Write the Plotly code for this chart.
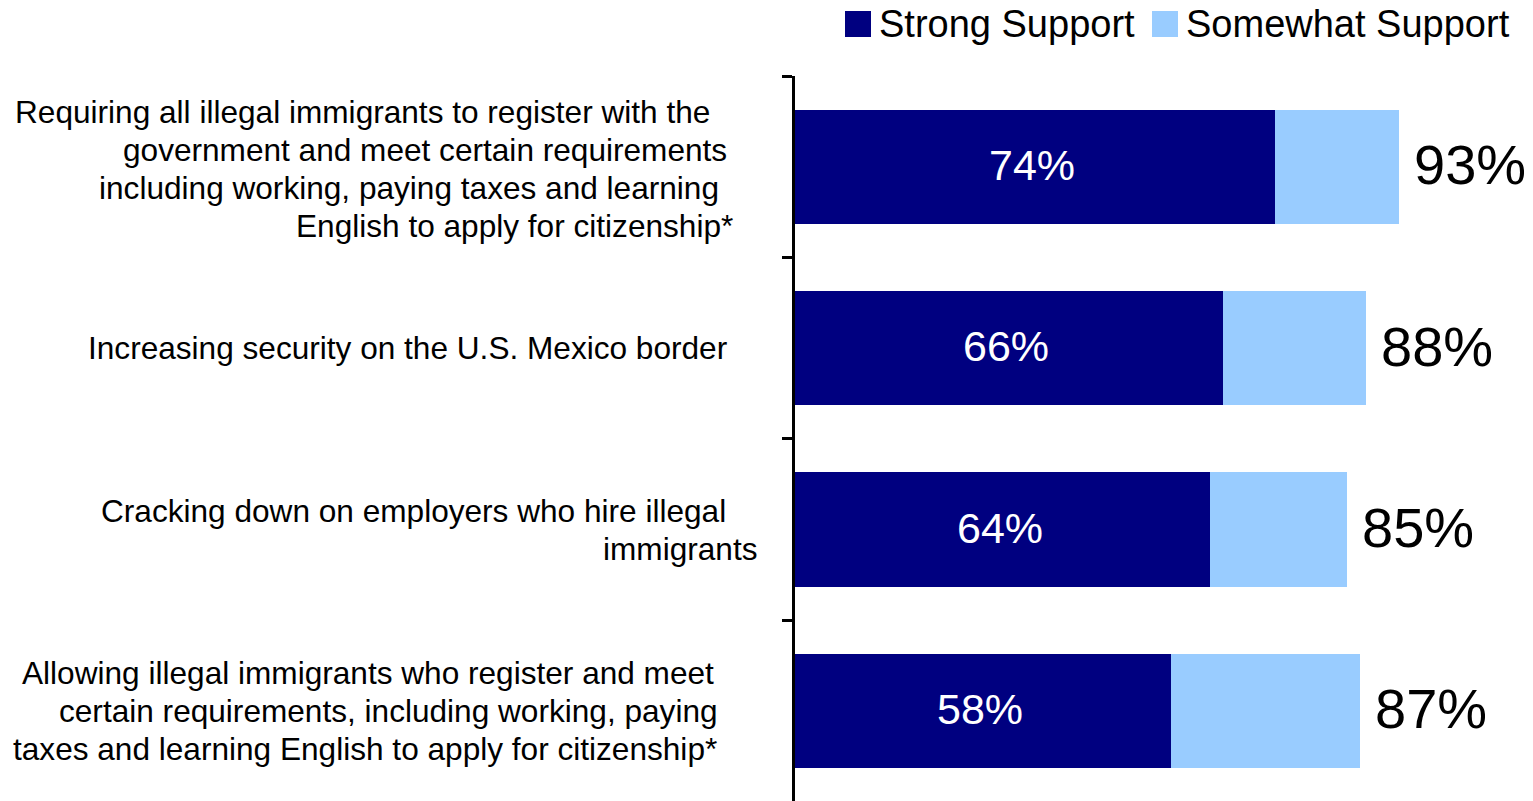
import plotly.graph_objects as go

# Survey items (top to bottom) and their wrapped label lines
categories = [
    "Register and meet requirements (citizenship path)",
    "Border security",
    "Employer crackdown",
    "Allow registered immigrants to apply for citizenship",
]
label_lines = [
    ["Requiring all illegal immigrants to register with the",
     "government and meet certain requirements",
     "including working, paying taxes and learning ",
     "English to apply for citizenship*"],
    ["Increasing security on the U.S. Mexico border"],
    ["Cracking down on employers who hire illegal",
     "immigrants"],
    ["Allowing illegal immigrants who register and meet",
     "certain requirements, including working, paying",
     "taxes and learning English to apply for citizenship*"],
]
strong_support = [74, 66, 64, 58]
total_support = [93, 88, 85, 87]
somewhat_support = [t - s for t, s in zip(total_support, strong_support)]
series_names = ["Strong Support", "Somewhat Support"]

NAVY = "#000080"
LIGHT = "#99CCFF"
FONT = "Liberation Sans, Arial, sans-serif"

# Canvas geometry (pixels)
W, H = 1533, 801
PLOT_LEFT, PLOT_TOP = 795, 76
PLOT_W, PLOT_H = W - PLOT_LEFT, H - PLOT_TOP
PX_PER_PCT = 6.49
BAND_PX = 181.4

def xp(px):
    return (px - PLOT_LEFT) / PLOT_W

def yp(py):
    return (H - py) / PLOT_H

fig = go.Figure()
fig.add_trace(go.Bar(
    y=categories, x=strong_support, orientation="h", name=series_names[0],
    marker=dict(color=NAVY, line=dict(width=0)),
    hoverinfo="skip",
))
fig.add_trace(go.Bar(
    y=categories, x=somewhat_support, orientation="h", name=series_names[1],
    marker=dict(color=LIGHT, line=dict(width=0)),
    hoverinfo="skip",
))

annotations = []
for cat, strong, tot in zip(categories, strong_support, total_support):
    # Strong-support value centred inside the dark segment
    annotations.append(dict(
        x=strong / 2, y=cat, xref="x", yref="y", text=f"{strong}%",
        showarrow=False, xanchor="center", yanchor="middle", xshift=-3, yshift=2,
        font=dict(family=FONT, size=43, color="white"),
    ))
    # Total support to the right of the stacked bar
    annotations.append(dict(
        x=tot, y=cat, xref="x", yref="y", text=f"{tot}%", showarrow=False,
        xanchor="left", yanchor="middle", xshift=13, yshift=2,
        font=dict(family=FONT, size=56, color="black"),
    ))

# Category labels, one annotation per wrapped line
line_right_edges = [[712, 729, 730, 735], [729], [728, 759], [716, 720, 719]]
LINE_STEP = 38
for i, (lines, edges) in enumerate(zip(label_lines, line_right_edges)):
    center_py = PLOT_TOP + BAND_PX * (i + 0.5)
    n = len(lines)
    for j, (txt, edge) in enumerate(zip(lines, edges)):
        py = center_py + (j - (n - 1) / 2) * LINE_STEP
        if i == 0:
            py += 2
        annotations.append(dict(
            x=xp(edge), y=yp(py), xref="paper", yref="paper", text=txt,
            showarrow=False, xanchor="right", yanchor="middle",
            font=dict(family=FONT, size=31.6, color="black"),
        ))

# Legend drawn as swatches and labels above the plot
legend_items = [(NAVY, 845, 880), (LIGHT, 1152, 1187)]
shapes = []
for (color, sx, tx), name in zip(legend_items, series_names):
    shapes.append(dict(
        type="rect", xref="paper", yref="paper",
        x0=xp(sx), x1=xp(sx + 26), y0=yp(37), y1=yp(11),
        fillcolor=color, line=dict(width=0),
    ))
    annotations.append(dict(
        x=xp(tx - 3), y=yp(24), xref="paper", yref="paper", text=name,
        showarrow=False, xanchor="left", yanchor="middle",
        font=dict(family=FONT, size=38, color="black"),
    ))

fig.update_layout(
    width=W, height=H,
    margin=dict(l=PLOT_LEFT, r=0, t=PLOT_TOP, b=0, pad=0),
    barmode="stack", bargap=0.37,
    plot_bgcolor="white", paper_bgcolor="white",
    showlegend=False,
    annotations=annotations, shapes=shapes,
    xaxis=dict(range=[0, PLOT_W / PX_PER_PCT], visible=False, fixedrange=True),
    yaxis=dict(
        categoryorder="array", categoryarray=categories,
        range=[-0.5 + PLOT_H / BAND_PX, -0.5],
        showticklabels=False, showgrid=False, zeroline=False,
        showline=True, linecolor="black", linewidth=2.5,
        ticks="outside", tickson="boundaries", ticklen=10,
        tickwidth=2.5, tickcolor="black", fixedrange=True,
    ),
)

fig.write_html("out.html")
